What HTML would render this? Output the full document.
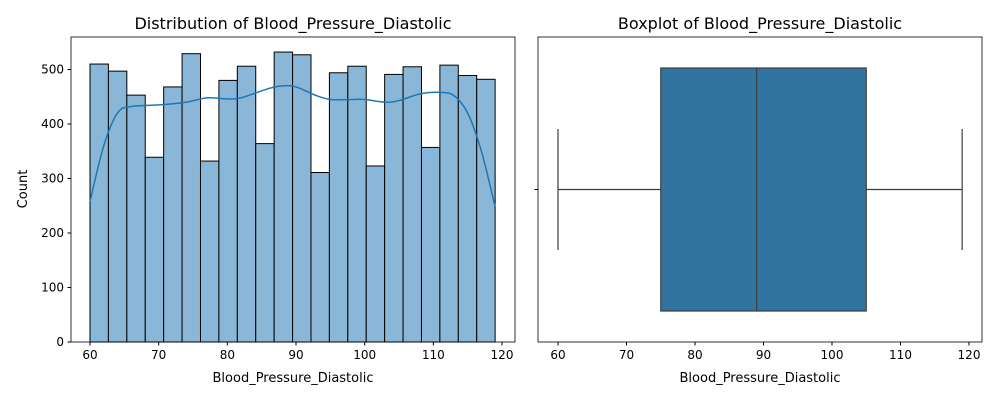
<!DOCTYPE html>
<html><head><meta charset="utf-8"><style>
body{margin:0;background:#fff;font-family:"Liberation Sans","DejaVu Sans",sans-serif}
svg text{font-family:"DejaVu Sans","Liberation Sans",sans-serif;fill:#000}
</style></head><body>
<svg id="c" width="1000" height="400"></svg>
<script>
const counts=[510,497,453,339,468,529,332,480,506,364,532,527,311,494,506,323,491,505,357,508,489,482];
const kdeX=[60,62,64,66,70,74,77,80,82,86,88,90,93,95,98,100,103,105,108,111,113,115,117,119];
const kdeY=[258,360,420,432,435,440,448,446,448,465,470,468,452,445,445,445,440,443,455,458,452,420,350,248];
const xTicks=[60,70,80,90,100,110,120];
const yTicks=[0,100,200,300,400,500];
const box={min:60,q1:75,med:89,q3:105,max:119};
const NS="http://www.w3.org/2000/svg";
const svg=document.getElementById('c');
function mk(t,a,p){const e=document.createElementNS(NS,t);for(const k in a)e.setAttribute(k,a[k]);(p||svg).appendChild(e);return e;}
const L={x0:71,x1:515,y0:37,y1:342};
const xl=v=>90+(v-60)*412/60;
const yl=v=>342-v*(342-69.5)/500;
const bw=(119-60)/counts.length;
counts.forEach((c,i)=>{
 const r=mk('rect',{x:xl(60+i*bw),y:yl(c),width:xl(60+(i+1)*bw)-xl(60+i*bw),height:342-yl(c),fill:'#8ab7d8',stroke:'#000','stroke-width':1});
 
 
});
const pts=kdeX.map((x,i)=>[xl(x),yl(kdeY[i])]);
let d='M'+pts[0][0]+' '+pts[0][1];
for(let i=0;i<pts.length-1;i++){
 const p0=pts[Math.max(0,i-1)],p1=pts[i],p2=pts[i+1],p3=pts[Math.min(pts.length-1,i+2)];
 d+=` C${p1[0]+(p2[0]-p0[0])/6} ${p1[1]+(p2[1]-p0[1])/6} ${p2[0]-(p3[0]-p1[0])/6} ${p2[1]-(p3[1]-p1[1])/6} ${p2[0]} ${p2[1]}`;
}
const kl=mk('path',{d:d,fill:'none',stroke:'#1f77b4','stroke-width':1.5});


mk('rect',{x:L.x0,y:L.y0,width:L.x1-L.x0,height:L.y1-L.y0,fill:'none',stroke:'#000','stroke-width':0.8,});
xTicks.forEach(t=>{mk('line',{x1:xl(t),x2:xl(t),y1:342,y2:345.5,stroke:'#000'});
 const e=mk('text',{x:xl(t),y:359,'font-size':12,'text-anchor':'middle'});e.textContent=t;
 });
yTicks.forEach(t=>{mk('line',{x1:67.5,x2:71,y1:yl(t),y2:yl(t),stroke:'#000'});
 const e=mk('text',{x:64,y:yl(t)+4,'font-size':12,'text-anchor':'end'});e.textContent=t;
 });
let t=mk('text',{x:293,y:29,'font-size':16,'text-anchor':'middle',});t.textContent='Distribution of Blood_Pressure_Diastolic';
t=mk('text',{x:293,y:382,'font-size':13,'text-anchor':'middle',});t.textContent='Blood_Pressure_Diastolic';
t=mk('text',{x:27,y:189,'font-size':13,'text-anchor':'middle',transform:'rotate(-90 27 189)',});t.textContent='Count';
const R={x0:538,x1:982};
const xr=v=>558+(v-60)*411/60;
mk('line',{x1:xr(box.min),x2:xr(box.q1),y1:189.5,y2:189.5,stroke:'#3d3d3d','stroke-width':1.2,});
mk('line',{x1:xr(box.q3),x2:xr(box.max),y1:189.5,y2:189.5,stroke:'#3d3d3d','stroke-width':1.2,});
mk('line',{x1:xr(box.min),x2:xr(box.min),y1:129,y2:250,stroke:'#3d3d3d','stroke-width':1.2,});
mk('line',{x1:xr(box.max),x2:xr(box.max),y1:129,y2:250,stroke:'#3d3d3d','stroke-width':1.2,});
mk('rect',{x:xr(box.q1),y:68,width:xr(box.q3)-xr(box.q1),height:243,fill:'#3274a1',stroke:'#3d3d3d','stroke-width':1.2,});
mk('line',{x1:xr(box.med),x2:xr(box.med),y1:68,y2:311,stroke:'#3d3d3d','stroke-width':1.2,});
mk('rect',{x:R.x0,y:37,width:R.x1-R.x0,height:305,fill:'none',stroke:'#000','stroke-width':0.8,});
mk('line',{x1:534.5,x2:538,y1:189.5,y2:189.5,stroke:'#000'});
xTicks.forEach(t=>{mk('line',{x1:xr(t),x2:xr(t),y1:342,y2:345.5,stroke:'#000'});
 const e=mk('text',{x:xr(t),y:359,'font-size':12,'text-anchor':'middle'});e.textContent=t;
 });
t=mk('text',{x:760,y:29,'font-size':16,'text-anchor':'middle',});t.textContent='Boxplot of Blood_Pressure_Diastolic';
t=mk('text',{x:760,y:382,'font-size':13,'text-anchor':'middle',});t.textContent='Blood_Pressure_Diastolic';
</script></body></html>
